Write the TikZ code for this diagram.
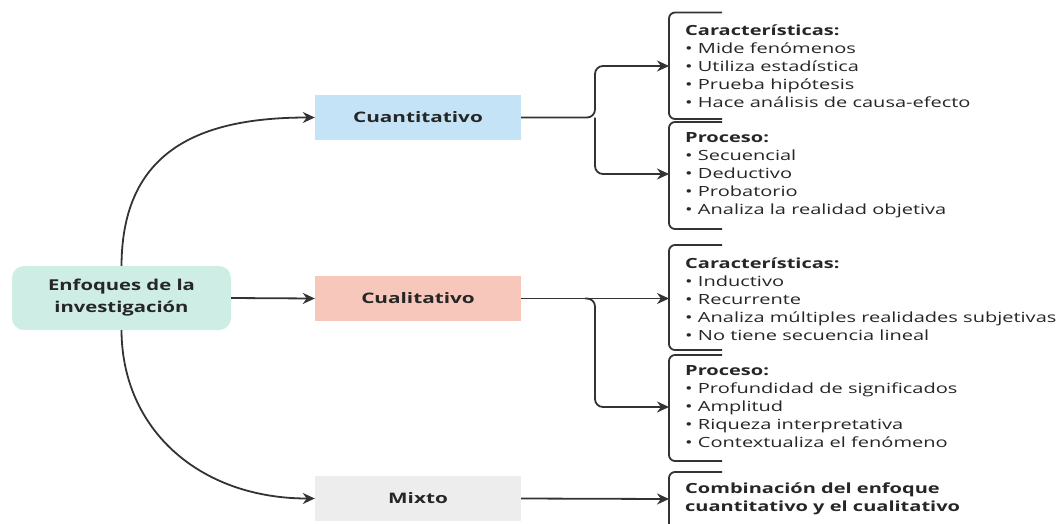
\documentclass[tikz,border=0pt]{standalone}
\usepackage{fontspec}
\setmainfont{Open Sans}[FakeStretch=1.35]
\newfontfamily\widefont{Open Sans}[FakeStretch=1.43]
\usetikzlibrary{arrows.meta}
\definecolor{rootc}{HTML}{CDEDE5}
\definecolor{quanc}{HTML}{C5E3F6}
\definecolor{qualc}{HTML}{F8C7BB}
\definecolor{mixc}{HTML}{EDEDED}
\definecolor{ink}{HTML}{333333}
\definecolor{txt}{HTML}{262626}
\begin{document}
\begin{tikzpicture}[x=1pt,y=-1pt,
  box/.style={minimum width=206pt,minimum height=45pt,inner sep=0pt,font=\widefont\fontsize{14.5}{17}\selectfont\bfseries,text=txt},
  conn/.style={draw=ink,line width=1.8pt,-{Stealth[length=12pt,width=11pt]}},
  plain/.style={draw=ink,line width=1.8pt},
  info/.style={anchor=west,align=left,inner sep=0pt,text=txt,font=\widefont\fontsize{14}{18}\selectfont},
  brk/.style={draw=ink,line width=1.8pt,rounded corners=6pt}]
\useasboundingbox (0,0) rectangle (1057,523);

\node[fill=rootc,rounded corners=12pt,minimum width=219pt,minimum height=64pt,inner sep=0pt,align=center,
  font=\fontsize{15}{22}\selectfont\bfseries,text=txt] (root) at (121.5,298) {Enfoques de la\\investigación};
\node[box,fill=quanc] (quan) at (418,117.5) {Cuantitativo};
\node[box,fill=qualc] (qual) at (418,298.5) {Cualitativo};
\node[box,fill=mixc] (mix) at (418,498.5) {Mixto};

% text blocks
\node[info] (qc) at (685,66) {\textbf{Características:}\\• Mide fenómenos\\• Utiliza estadística\\• Prueba hipótesis\\• Hace análisis de causa-efecto};
\node[info] (qp) at (685,175) {\textbf{Proceso:}\\• Secuencial\\• Deductivo\\• Probatorio\\• Analiza la realidad objetiva};
\node[info] (lc) at (685,299) {\textbf{Características:}\\• Inductivo\\• Recurrente\\• Analiza múltiples realidades subjetivas\\• No tiene secuencia lineal};
\node[info] (lp) at (685,407) {\textbf{Proceso:}\\• Profundidad de significados\\• Amplitud\\• Riqueza interpretativa\\• Contextualiza el fenómeno};
\node[info,font=\widefont\fontsize{14}{18}\selectfont\bfseries] (mt) at (685,499) {Combinación del enfoque\\cuantitativo y el cualitativo};

% brackets
\coordinate (qcb) at (669,66);
\coordinate (qpb) at (669,174);
\coordinate (lcb) at (669,299);
\coordinate (lpb) at (669,407);
\coordinate (mtb) at (669,499);
\draw[brk] (722,12.5) -- (669,12.5) -- (669,119) -- (722,119);
\draw[brk] (722,122) -- (669,122) -- (669,229) -- (722,229);
\draw[brk] (722,245) -- (669,245) -- (669,350) -- (722,350);
\draw[brk] (722,355) -- (669,355) -- (669,461) -- (722,461);
\draw[brk] (722,472) -- (669,472) -- (669,530);

% main connectors
\draw[conn] (root.east) -- (qual.west);
\draw[conn] (root.north) .. controls (122,150) and (200,117.5) .. (quan.west);
\draw[conn] (root.south) .. controls (122,430) and (200,498.5) .. (mix.west);

% forks
\coordinate (qf) at (595,117.5);
\draw[plain,rounded corners=8pt] (quan.east) -- (qf) -- (595,66) -- (630,66);
\draw[conn,rounded corners=8pt] (qf) -- (595,174) -- (qpb);
\draw[conn] (630,66) -- (qcb);
\draw[conn] (qual.east) -- (lcb |- qual.east);
\draw[conn,rounded corners=8pt] (585,298.5) -- (595,298.5) -- (595,407) -- (lpb);
\draw[conn] (mix.east) -- (mtb);
\end{tikzpicture}
\end{document}
